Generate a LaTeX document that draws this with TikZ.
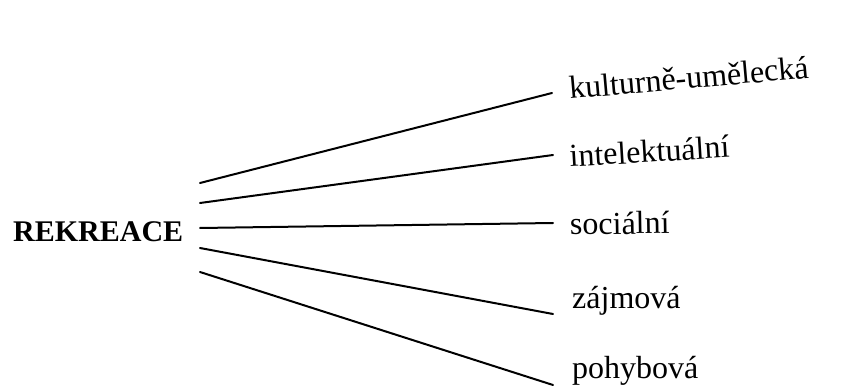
\documentclass[tikz,border=0pt]{standalone}
\usepackage{fontspec}
\setmainfont{Liberation Serif}
\begin{document}
\begin{tikzpicture}[x=1pt,y=-1pt,
  lbl/.style={anchor=base west,inner sep=0pt,font=\fontsize{32}{38}\selectfont},
  root/.style={anchor=base west,inner sep=0pt,font=\fontsize{30}{36}\selectfont\bfseries},
  conn/.style={line width=2pt,line cap=round}]
\useasboundingbox (0,0) rectangle (846,390);
\node[root] (r) at (13,242) {REKREACE};
\node[lbl,rotate=5] (k) at (570,99) {kulturně-umělecká};
\node[lbl,rotate=3.5] (i) at (570,167) {intelektuální};
\node[lbl,rotate=1] (s) at (570,235) {sociální};
\node[lbl] (z) at (572,308) {zájmová};
\node[lbl] (p) at (572,378) {pohybová};
\coordinate (s1) at (200,183);
\coordinate (s2) at (200,203);
\coordinate (s3) at (200,228);
\coordinate (s4) at (200,248);
\coordinate (s5) at (200,272);
\coordinate (e1) at (552,93);
\coordinate (e2) at (553,155);
\coordinate (e3) at (553,223);
\coordinate (e4) at (553,314);
\coordinate (e5) at (553,385);
\draw[conn] (s1) -- (e1);
\draw[conn] (s2) -- (e2);
\draw[conn] (s3) -- (e3);
\draw[conn] (s4) -- (e4);
\draw[conn] (s5) -- (e5);
\end{tikzpicture}
\end{document}
